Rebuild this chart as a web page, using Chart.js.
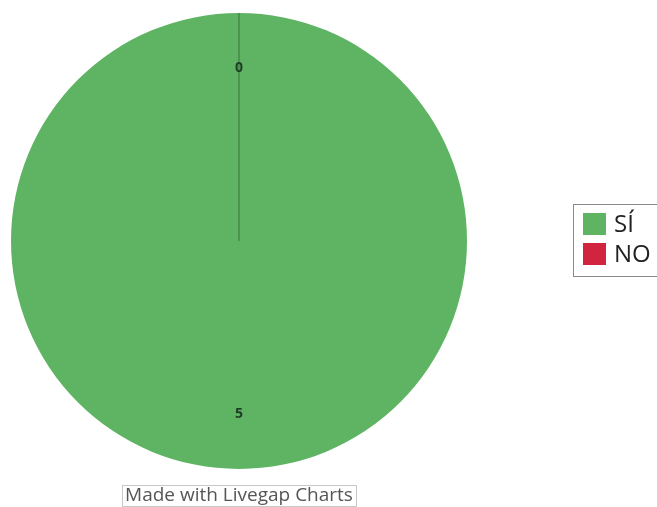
<!DOCTYPE html>
<html>
<head>
<meta charset="utf-8">
<script src="https://cdn.jsdelivr.net/npm/chart.js@4.4.1/dist/chart.umd.min.js"></script>
<style>
  html, body { margin: 0; padding: 0; background: #ffffff; }
  #wrap { width: 657px; height: 507px; position: relative; }
</style>
</head>
<body>
<div id="wrap"><canvas id="c" width="657" height="507"></canvas></div>
<script>
// Answer categories and counts
const categories = ['SÍ', 'NO'];
const counts = [5, 0];
const sliceColors = ['#5fb464', '#d0243f'];
const edgeColor = '#4b9450';
const creditText = 'Made with Livegap Charts';

// Slice edges (also for empty slices, which the arc element skips)
// and each slice's value at 3/4 of the radius along its middle angle
const valueLabels = {
  id: 'valueLabels',
  afterDatasetsDraw(chart) {
    const ctx = chart.ctx;
    const meta = chart.getDatasetMeta(0);
    ctx.save();
    meta.data.forEach((arc) => {
      const p = arc.getProps(['x', 'y', 'startAngle', 'endAngle', 'outerRadius'], true);
      if (p.endAngle - p.startAngle < 1e-6) {
        ctx.strokeStyle = edgeColor;
        ctx.lineWidth = 2;
        ctx.beginPath();
        ctx.moveTo(p.x, p.y);
        ctx.lineTo(p.x + Math.cos(p.startAngle) * p.outerRadius, p.y + Math.sin(p.startAngle) * p.outerRadius);
        ctx.stroke();
      }
    });
    ctx.font = 'bold 14px "Open Sans"';
    ctx.fillStyle = '#1f3d24';
    ctx.textAlign = 'center';
    ctx.textBaseline = 'middle';
    meta.data.forEach((arc, i) => {
      const p = arc.getProps(['x', 'y', 'startAngle', 'endAngle', 'outerRadius'], true);
      const mid = (p.startAngle + p.endAngle) / 2;
      const r = p.outerRadius * 0.76;
      ctx.fillText(String(chart.data.datasets[0].data[i]), p.x + Math.cos(mid) * r, p.y + Math.sin(mid) * r);
    });
    ctx.restore();
  }
};

// Boxed legend on the right and the credit line under the pie
const sideLegend = {
  id: 'sideLegend',
  afterDraw(chart) {
    const ctx = chart.ctx;
    const ds = chart.data.datasets[0];
    ctx.save();
    // legend frame
    ctx.strokeStyle = '#8a8a8a';
    ctx.lineWidth = 1;
    ctx.strokeRect(573.5, 204.5, 90, 72);
    ctx.font = '24px "Open Sans"';
    ctx.textBaseline = 'middle';
    ctx.textAlign = 'left';
    chart.data.labels.forEach((lab, i) => {
      const y = 213 + i * 30;
      ctx.fillStyle = ds.backgroundColor[i];
      ctx.fillRect(583, y, 23, 22);
      ctx.fillStyle = '#222222';
      ctx.fillText(lab, 614, y + 12);
    });
    // credit
    ctx.font = '19px "Open Sans"';
    const w = ctx.measureText(creditText).width;
    const cx = 239;
    ctx.fillStyle = '#555555';
    ctx.textAlign = 'center';
    ctx.fillText(creditText, cx, 496);
    ctx.strokeStyle = '#c8c8c8';
    ctx.strokeRect(Math.round(cx - w / 2 - 3) + 0.5, 485.5, Math.round(w + 6), 21);
    ctx.restore();
  }
};

new Chart(document.getElementById('c'), {
  type: 'pie',
  data: {
    labels: categories,
    datasets: [{
      data: counts,
      backgroundColor: sliceColors,
      borderWidth: 0
    }]
  },
  options: {
    responsive: false,
    animation: false,
    layout: { padding: { left: 11, top: 13, right: 190, bottom: 38 } },
    plugins: {
      legend: { display: false },
      tooltip: { enabled: false }
    }
  },
  plugins: [valueLabels, sideLegend]
});
</script>
</body>
</html>
